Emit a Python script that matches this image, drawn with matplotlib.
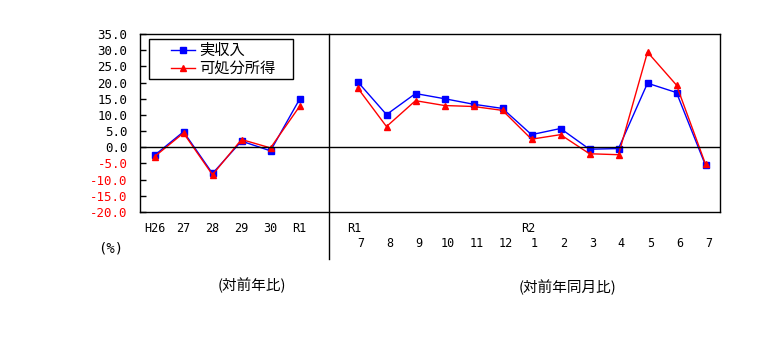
import matplotlib
matplotlib.use("Agg")
import matplotlib.pyplot as plt
from matplotlib.patches import Rectangle
from matplotlib.lines import Line2D
import numpy as np

plt.rcParams['font.family'] = ['Noto Sans CJK JP', 'DejaVu Sans']
MONO = ['DejaVu Sans Mono', 'Noto Sans CJK JP']

# annual (対前年比)
year_labels = ["H26", "27", "28", "29", "30", "R1"]
year_income = [-2.5, 4.8, -8.1, 1.9, -1.1, 14.8]
year_disposable = [-2.9, 4.4, -8.5, 2.4, -0.2, 12.6]

# monthly (対前年同月比)
month_labels = ["7", "8", "9", "10", "11", "12", "1", "2", "3", "4", "5", "6", "7"]
month_income = [20.3, 10.1, 16.6, 15.0, 13.3, 12.0, 3.9, 5.8, -0.6, -0.4, 19.8, 16.9, -5.6]
month_disposable = [18.4, 6.4, 14.4, 12.9, 12.6, 11.4, 2.5, 3.9, -2.0, -2.3, 29.4, 19.2, -5.2]

series_names = ["実収入", "可処分所得"]
yticks = np.arange(-20, 36, 5)

W, H = 769, 356
fig = plt.figure(figsize=(W / 100, H / 100), dpi=100)


def px(x, y):
    return x / W, 1 - y / H


ax = fig.add_axes([140 / W, 1 - 212 / H, 580 / W, 178 / H])

xy = np.arange(len(year_labels))
xm = np.arange(len(month_labels)) + len(year_labels) + 1

ax.plot(xy, year_income, color="blue", marker="s", ms=4.5, lw=1)
ax.plot(xy, year_disposable, color="red", marker="^", ms=4.5, lw=1)
ax.plot(xm, month_income, color="blue", marker="s", ms=4.5, lw=1)
ax.plot(xm, month_disposable, color="red", marker="^", ms=4.5, lw=1)

ax.axhline(0, color="black", lw=1)
ax.set_xlim(-0.5, len(year_labels) + len(month_labels) + 0.5)
ax.set_ylim(-20, 35)
ax.set_yticks(yticks)
ax.set_yticklabels([f"{v:.1f}" for v in yticks], fontsize=9, family=MONO)
for lab, v in zip(ax.get_yticklabels(), yticks):
    if v < 0:
        lab.set_color("red")
ax.tick_params(axis="y", direction="in", length=4, width=1, pad=9)
ax.set_xticks([])
for s in ax.spines.values():
    s.set_linewidth(1)

# divider between annual and monthly parts
div_x = len(year_labels)
ax.plot([div_x, div_x], [35, -34.5], color="black", lw=1, clip_on=False)

# x labels
for x, t in zip(xy, year_labels):
    ax.text(x, -25, t, ha="center", va="center", fontsize=8.5, family=MONO)
ax.text(xm[0] - 0.1, -25, "R1", ha="center", va="center", fontsize=8.5, family=MONO)
ax.text(xm[6] - 0.1, -25, "R2", ha="center", va="center", fontsize=8.5, family=MONO)
for x, t in zip(xm, month_labels):
    ax.text(x + 0.1, -29.6, t, ha="center", va="center", fontsize=8.5, family=MONO)

fig.text(*px(111, 249), "(%)", ha="center", va="center", fontsize=10, family=MONO)
fig.text(*px(252, 285), "(対前年比)", ha="center", va="center", fontsize=10.5)
fig.text(*px(567, 287), "(対前年同月比)", ha="center", va="center", fontsize=10.5)

# legend box
fig.patches.append(Rectangle(px(149, 79), 144 / W, 40 / H, transform=fig.transFigure,
                             fill=True, facecolor="white", edgecolor="black", lw=1, zorder=5))
for row_y, name, col, mk in zip([50, 68], series_names, ["blue", "red"], ["s", "^"]):
    x0, y0 = px(171, row_y)
    x1, _ = px(195, row_y)
    fig.lines.append(Line2D([x0, x1], [y0, y0], transform=fig.transFigure, color=col, lw=1, zorder=6))
    fig.lines.append(Line2D([(x0 + x1) / 2], [y0], transform=fig.transFigure, color=col,
                            marker=mk, ms=4.5, zorder=6))
    fig.text(*px(199, row_y), name, ha="left", va="center", fontsize=11, zorder=7)

fig.savefig("out.png", dpi=100)
